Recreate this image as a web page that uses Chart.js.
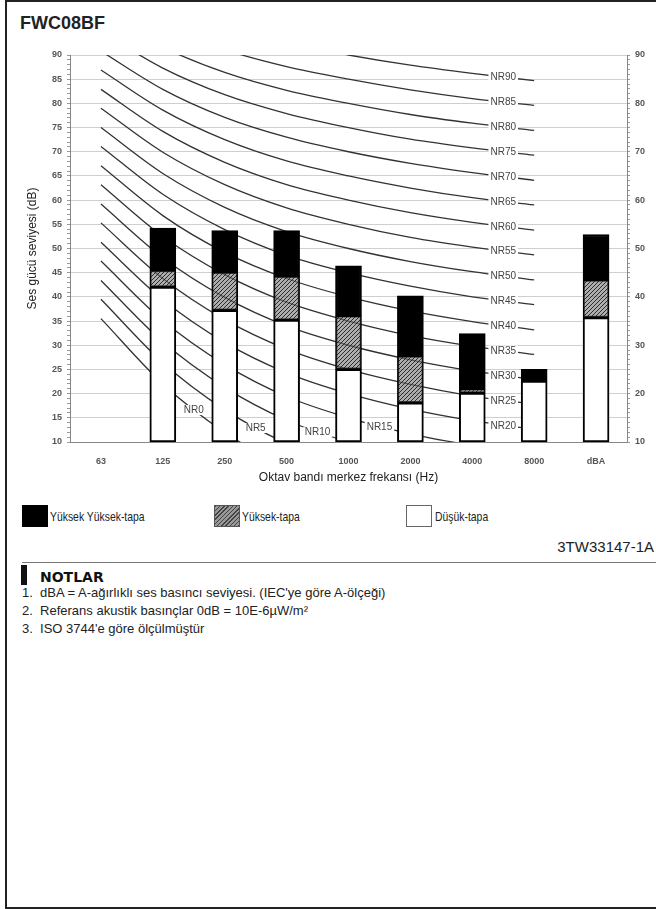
<!DOCTYPE html>
<html>
<head>
<meta charset="utf-8">
<script src="https://cdn.jsdelivr.net/npm/chart.js@4.4.1/dist/chart.umd.min.js"></script>
<style>
  html, body { margin: 0; padding: 0; background: #fff; }
  body { width: 656px; height: 909px; position: relative; overflow: hidden;
         font-family: "Liberation Sans", Arial, sans-serif; color: #222; }
  #frame { position: absolute; left: 5px; top: 0; width: 660px; height: 905px;
           border: 2px solid #222; }
  #title { position: absolute; left: 20px; top: 13px; font-weight: bold; font-size: 18px; color: #222; }
  #chart-wrap { position: absolute; left: 0; top: 40px; width: 656px; height: 450px; }
  .leg { position: absolute; top: 505px; height: 22px; }
  .sw { position: absolute; top: 0; width: 26px; height: 22px; box-sizing: border-box; }
  .lt { position: absolute; top: 4px; font-size: 13px; white-space: nowrap;
        transform: scaleX(0.8); transform-origin: 0 0; }
  #code { position: absolute; right: 2px; top: 538px; font-size: 15px; color: #222; }
  #rule { position: absolute; left: 22px; top: 562px; width: 640px; height: 0;
          border-top: 1.5px solid #777; }
  #bar { position: absolute; left: 21px; top: 565px; width: 6px; height: 20px; background: #111; }
  #notlar { position: absolute; left: 40px; top: 569px; font-family: "DejaVu Sans", sans-serif;
            font-weight: bold; font-size: 14px; color: #111; }
  #notes { position: absolute; left: 22px; top: 584px; font-size: 13px; line-height: 18px; color: #222;
           margin: 0; padding: 0; list-style: none; }
</style>
</head>
<body>
<div id="frame"></div>
<div id="title">FWC08BF</div>
<div id="chart-wrap"><canvas id="nr-chart"></canvas></div>

<div class="leg" style="left:22px">
  <div class="sw" style="left:0;background:#000"></div>
  <div class="lt" style="left:28px">Yüksek Yüksek-tapa</div>
</div>
<div class="leg" style="left:214px">
  <div class="sw" style="left:0;background:repeating-linear-gradient(-45deg,#444 0 1px,#999 1px 3px);border:1px solid #555"></div>
  <div class="lt" style="left:28px">Yüksek-tapa</div>
</div>
<div class="leg" style="left:406px">
  <div class="sw" style="left:0;background:#fff;border:1px solid #666"></div>
  <div class="lt" style="left:29px">Düşük-tapa</div>
</div>

<div id="code">3TW33147-1A</div>
<div id="rule"></div>
<div id="bar"></div>
<div id="notlar">NOTLAR</div>
<ul id="notes">
  <li>1.&nbsp; dBA = A-ağırlıklı ses basıncı seviyesi. (IEC'ye göre A-ölçeği)</li>
  <li>2.&nbsp; Referans akustik basınçlar 0dB = 10E-6µW/m²</li>
  <li>3.&nbsp; ISO 3744'e göre ölçülmüştür</li>
</ul>

<script>
// octave bands + overall dBA column
const freqLabels = ['63', '125', '250', '500', '1000', '2000', '4000', '8000', 'dBA'];

const lowTap      = [null, 42.0, 37.2, 35.2, 25.0, 18.1, 20.1, 22.6, 35.7];
const highTap     = [null, 45.5, 45.1, 44.3, 36.1, 27.8, 21.0, 22.6, 43.5];
const highHighTap = [null, 54.2, 53.7, 53.7, 46.4, 40.2, 32.4, 25.0, 52.9];

// NR curves, 63 .. 8000 Hz (no value in the dBA column)
const nrLevels = [0, 5, 10, 15, 20, 25, 30, 35, 40, 45, 50, 55, 60, 65, 70, 75, 80, 85, 90];
const nrCurves = [
    [35.5, 22.0, 12.0, 4.8, 0, -3.5, -6.1, -8.0, null],
    [39.5, 26.4, 16.7, 9.7, 5, 1.6, -1.0, -2.9, null],
    [43.4, 30.7, 21.3, 14.5, 10, 6.7, 4.2, 2.3, null],
    [47.4, 35.1, 26.0, 19.4, 15, 11.7, 9.3, 7.5, null],
    [51.3, 39.4, 30.6, 24.3, 20, 16.8, 14.4, 12.6, null],
    [55.3, 43.8, 35.3, 29.2, 25, 21.9, 19.5, 17.8, null],
    [59.2, 48.1, 39.9, 34.0, 30, 27.0, 24.7, 22.9, null],
    [63.2, 52.5, 44.6, 38.9, 35, 32.0, 29.8, 28.1, null],
    [67.1, 56.8, 49.2, 43.8, 40, 37.1, 34.9, 33.2, null],
    [71.1, 61.2, 53.9, 48.6, 45, 42.2, 40.0, 38.4, null],
    [75.0, 65.5, 58.5, 53.5, 50, 47.3, 45.2, 43.5, null],
    [79.0, 69.9, 63.2, 58.4, 55, 52.3, 50.3, 48.7, null],
    [82.9, 74.2, 67.8, 63.2, 60, 57.4, 55.4, 53.8, null],
    [86.9, 78.6, 72.5, 68.1, 65, 62.5, 60.5, 59.0, null],
    [90.8, 82.9, 77.1, 73.0, 70, 67.6, 65.7, 64.1, null],
    [94.8, 87.3, 81.8, 77.9, 75, 72.6, 70.8, 69.3, null],
    [98.7, 91.6, 86.4, 82.7, 80, 77.7, 75.9, 74.4, null],
    [102.7, 96.0, 91.1, 87.6, 85, 82.8, 81.0, 79.6, null],
    [106.6, 100.3, 95.7, 92.5, 90, 87.9, 86.2, 84.7, null],
];

const yMin = 10;
const yMax = 90;

function makeHatch() {
    const c = document.createElement('canvas');
    c.width = 4;
    c.height = 4;
    const g = c.getContext('2d');
    g.fillStyle = 'rgba(120,120,120,0.6)';
    g.fillRect(0, 0, 4, 4);
    g.strokeStyle = 'rgba(30,30,30,0.9)';
    g.lineWidth = 1;
    g.beginPath();
    g.moveTo(0, 4); g.lineTo(4, 0);
    g.moveTo(-1, 1); g.lineTo(1, -1);
    g.moveTo(3, 5); g.lineTo(5, 3);
    g.stroke();
    return g.createPattern(c, 'repeat');
}

// floating bars: each band part goes from the level below it to its own level
const whiteRange = lowTap.map(v => v === null ? null : [yMin, v]);
const hatchRange = lowTap.map((v, i) => v === null ? null : [v, highTap[i]]);
const blackRange = highTap.map((v, i) => v === null ? null : [v, highHighTap[i]]);

const barStyle = {
    type: 'bar',
    grouped: false,
    barThickness: 26,
    borderColor: '#000',
    borderWidth: 2,
    borderSkipped: false,
    order: 0,
};

const datasets = [
    Object.assign({label: 'Düşük-tapa', data: whiteRange, backgroundColor: '#fff'}, barStyle),
    Object.assign({label: 'Yüksek-tapa', data: hatchRange, backgroundColor: makeHatch()}, barStyle, {borderWidth: 1.5}),
    Object.assign({label: 'Yüksek Yüksek-tapa', data: blackRange, backgroundColor: '#000'}, barStyle),
];
const barCount = datasets.length;

nrCurves.forEach((curve, k) => {
    datasets.push({
        type: 'line',
        label: 'NR' + nrLevels[k],
        data: curve,
        borderColor: '#333',
        borderWidth: 1.3,
        pointRadius: 0,
        cubicInterpolationMode: 'monotone',
        spanGaps: false,
        order: 1,
    });
});

// NR labels sit on the curve, with a white gap behind them
const nrLabelPlugin = {
    id: 'nrLabels',
    afterDatasetsDraw(chart) {
        const ctx = chart.ctx;
        const area = chart.chartArea;
        ctx.save();
        ctx.font = '10px "Liberation Sans", Arial, sans-serif';
        ctx.textAlign = 'center';
        ctx.textBaseline = 'middle';
        nrLevels.forEach((nr, k) => {
            const pts = chart.getDatasetMeta(barCount + k).data;
            const slot = nr <= 15 ? nr / 5 + 1 : 6;
            const t = 0.5;
            const a = pts[slot], b = pts[slot + 1];
            const u = 1 - t;
            const x = u * u * u * a.x + 3 * u * u * t * a.cp2x + 3 * u * t * t * b.cp1x + t * t * t * b.x;
            const y = u * u * u * a.y + 3 * u * u * t * a.cp2y + 3 * u * t * t * b.cp1y + t * t * t * b.y;
            if (y < area.top || y > area.bottom) return;
            const text = 'NR' + nr;
            const w = ctx.measureText(text).width;
            ctx.fillStyle = '#fff';
            ctx.fillRect(x - w / 2 - 2, y - 5, w + 4, 10);
            ctx.fillStyle = '#444';
            ctx.fillText(text, x, y + 0.5);
        });
        ctx.restore();
    }
};

const config_nr = {
    data: {
        labels: freqLabels,
        datasets: datasets,
    },
    options: {
        responsive: true,
        maintainAspectRatio: false,
        animation: false,
        layout: {
            padding: {top: 15, left: 0, right: 0, bottom: 0}
        },
        elements: {
            line: {capBezierPoints: false}
        },
        plugins: {
            legend: {display: false},
            tooltip: {enabled: false},
        },
        scales: {
            x: {
                offset: true,
                grid: {display: false, drawTicks: false},
                border: {color: '#888', width: 1},
                ticks: {
                    color: '#555',
                    font: {family: '"Liberation Sans", Arial', size: 9, weight: 'bold'},
                    padding: 14,
                    maxRotation: 0,
                    autoSkip: false,
                },
                title: {
                    display: true,
                    text: 'Oktav bandı merkez frekansı (Hz)',
                    color: '#222',
                    font: {family: '"Liberation Sans", Arial', size: 12},
                    padding: {top: 0, bottom: 5},
                },
                afterFit(scale) { scale.height = 48; },
            },
            y: {
                position: 'left',
                min: yMin,
                max: yMax,
                grid: {
                    color: ctx => ctx.tick && ctx.tick.value % 5 === 0 ? '#cfcfcf' : 'rgba(0,0,0,0)',
                    tickColor: '#999',
                    tickLength: 3,
                    lineWidth: 1,
                },
                border: {color: '#888', width: 1},
                ticks: {
                    stepSize: 1,
                    autoSkip: false,
                    padding: 5,
                    color: '#555',
                    font: {family: '"Liberation Sans", Arial', size: 9, weight: 'bold'},
                    callback: v => v % 5 === 0 ? v : '',
                },
                title: {
                    display: true,
                    text: 'Ses gücü seviyesi (dB)',
                    color: '#222',
                    font: {family: '"Liberation Sans", Arial', size: 12},
                    padding: {top: 25, bottom: 0},
                },
                afterFit(scale) { scale.width = 70; },
            },
            y2: {
                position: 'right',
                min: yMin,
                max: yMax,
                grid: {
                    drawOnChartArea: false,
                    tickColor: '#999',
                    tickLength: 3,
                },
                border: {color: '#888', width: 1},
                ticks: {
                    stepSize: 1,
                    autoSkip: false,
                    padding: 5,
                    color: '#555',
                    font: {family: '"Liberation Sans", Arial', size: 9, weight: 'bold'},
                    callback: v => v % 10 === 0 ? v : '',
                },
                afterFit(scale) { scale.width = 29; },
            },
        },
    },
    plugins: [nrLabelPlugin],
};

var chart_nr = new Chart(
    document.getElementById('nr-chart'),
    config_nr
);
</script>
</body>
</html>
